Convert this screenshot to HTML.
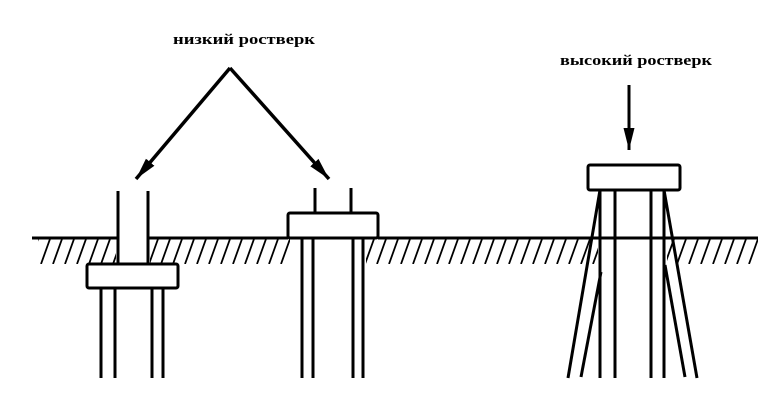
<!DOCTYPE html>
<html><head><meta charset="utf-8"><style>
html,body{margin:0;padding:0;background:#fff;}
svg{display:block;}
text{font-family:"Liberation Serif",serif;font-weight:bold;font-size:15px;fill:#000;}
</style></head><body>
<svg width="780" height="410" viewBox="0 0 780 410" xmlns="http://www.w3.org/2000/svg">
<defs>
<pattern id="h" patternUnits="userSpaceOnUse" x="40" y="239" width="12" height="25">
<line x1="1" y1="25" x2="10" y2="0" stroke="#000" stroke-width="1.8"/>
</pattern>
<marker id="ah" markerWidth="24" markerHeight="12" refX="22" refY="6" orient="auto" markerUnits="userSpaceOnUse" viewBox="0 0 24 12">
<path d="M0,0.5 L22,6 L0,11.5 Z" fill="#000"/>
</marker>
</defs>
<g fill="url(#h)">
<rect x="38" y="239" width="78" height="25"/>
<rect x="150" y="239" width="140" height="25"/>
<rect x="366" y="239" width="232" height="25"/>
<rect x="667" y="239" width="91" height="25"/>
</g>
<g stroke="#000" stroke-width="3" fill="none">
<line x1="32" y1="238" x2="118" y2="238"/>
<line x1="148" y1="238" x2="288" y2="238"/>
<line x1="378" y1="238" x2="758" y2="238"/>
<!-- left -->
<line x1="118" y1="191" x2="118" y2="264"/>
<line x1="148" y1="191" x2="148" y2="264"/>
<rect x="87" y="264" width="91" height="24" rx="2"/>
<line x1="101" y1="288" x2="101" y2="378"/>
<line x1="115" y1="288" x2="115" y2="378"/>
<line x1="152" y1="288" x2="152" y2="378"/>
<line x1="163" y1="288" x2="163" y2="378"/>
<!-- middle -->
<line x1="315" y1="188" x2="315" y2="213"/>
<line x1="351" y1="188" x2="351" y2="213"/>
<rect x="288" y="213" width="90" height="25" rx="2"/>
<line x1="302" y1="238" x2="302" y2="378"/>
<line x1="313" y1="238" x2="313" y2="378"/>
<line x1="353" y1="238" x2="353" y2="378"/>
<line x1="363" y1="238" x2="363" y2="378"/>
<!-- right -->
<rect x="588" y="165" width="92" height="25" rx="2"/>
<line x1="600" y1="190" x2="600" y2="378"/>
<line x1="615" y1="190" x2="615" y2="378"/>
<line x1="651" y1="190" x2="651" y2="378"/>
<line x1="664" y1="190" x2="664" y2="378"/>
<line x1="600" y1="190" x2="568" y2="378"/>
<line x1="664" y1="190" x2="697" y2="378"/>
<line x1="601" y1="272" x2="581" y2="377"/>
<line x1="665" y1="265" x2="685" y2="377"/>
<!-- arrows -->
<line x1="230" y1="68" x2="136" y2="179" marker-end="url(#ah)" stroke-width="3.5"/>
<line x1="230" y1="68" x2="329" y2="179" marker-end="url(#ah)" stroke-width="3.5"/>
<line x1="629" y1="85" x2="629" y2="150" marker-end="url(#ah)" stroke-width="3"/>
</g>
<g stroke="#000" stroke-width="1.5">
<line x1="615" y1="238" x2="651" y2="238"/>
</g>
<text x="173" y="44" textLength="142" lengthAdjust="spacingAndGlyphs">низкий ростверк</text>
<text x="560" y="65" textLength="152" lengthAdjust="spacingAndGlyphs">высокий ростверк</text>
</svg>
</body></html>
